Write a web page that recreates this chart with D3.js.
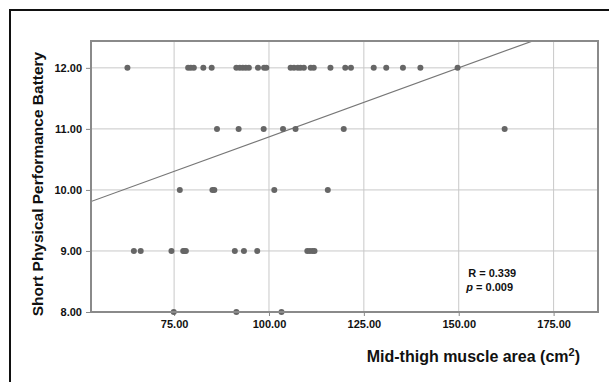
<!DOCTYPE html>
<html>
<head>
<meta charset="utf-8">
<script src="https://cdn.jsdelivr.net/npm/d3@7"></script>
<style>
  body { margin: 0; background: #fff; }
  text { font-family: "Liberation Sans", Arial, sans-serif; }
</style>
</head>
<body>
<div id="chart"></div>
<script>
// data: mid-thigh muscle area (cm2) for each SPPB score
var sppb12 = [62.7, 78.7, 79.4, 80.2, 82.7, 84.9, 91.4, 92.3, 93.1, 93.9, 94.7, 97.1, 98.7, 99.3,
              105.7, 106.6, 107.6, 108.3, 109.2, 111.0, 111.8, 116.2, 120.1, 121.6, 127.6, 130.9,
              135.3, 139.9, 149.7];
var sppb11 = [86.3, 92.0, 98.6, 103.7, 107.0, 119.7, 162.1];
var sppb10 = [76.5, 85.1, 85.6, 101.4, 115.5];
var sppb9 = [64.4, 66.2, 74.3, 77.4, 77.7, 78.1, 91.0, 93.4, 96.9, 110.1, 110.8, 111.5, 112.0];
var sppb8 = [74.9, 91.4, 103.3];

var xTicks = [75, 100, 125, 150, 175];
var yTicks = [8, 9, 10, 11, 12];

// fit line (as drawn): y = intercept + slope * x
var fitIntercept = 8.61;
var fitSlope = 0.0226;

var points = [];
[[12, sppb12], [11, sppb11], [10, sppb10], [9, sppb9], [8, sppb8]].forEach(function(s) {
    s[1].forEach(function(v) { points.push({x: v, y: s[0]}); });
});

var W = 609, H = 382;
var margin = {top: 41, right: 11, bottom: 70, left: 91},
    width = W - margin.left - margin.right,
    height = H - margin.top - margin.bottom;

var svg = d3.select("#chart").append("svg")
    .attr("width", W)
    .attr("height", H);

// outer black frame (top and left visible)
svg.append("rect")
    .attr("x", 10).attr("y", 10)
    .attr("width", W + 20).attr("height", H + 20)
    .attr("fill", "none")
    .attr("stroke", "#111")
    .attr("stroke-width", 2);

var g = svg.append("g")
    .attr("transform", "translate(" + margin.left + "," + margin.top + ")");

var x = d3.scaleLinear().domain([53.1, 186.7]).range([0, width]);
var y = d3.scaleLinear().domain([8, 12.44]).range([height, 0]);

// grid lines
g.append("g").selectAll("line").data(xTicks).enter().append("line")
    .attr("x1", d => x(d)).attr("x2", d => x(d))
    .attr("y1", 0).attr("y2", height)
    .attr("stroke", "#c8c8c8").attr("stroke-width", 1);
g.append("g").selectAll("line").data(yTicks.slice(1)).enter().append("line")
    .attr("x1", 0).attr("x2", width)
    .attr("y1", d => y(d)).attr("y2", d => y(d))
    .attr("stroke", "#c8c8c8").attr("stroke-width", 1);

// axes
var xAxis = g.append("g")
    .attr("transform", "translate(0," + height + ")")
    .call(d3.axisBottom(x).tickValues(xTicks).tickFormat(d3.format(".2f")).tickSize(4).tickPadding(4));
var yAxis = g.append("g")
    .call(d3.axisLeft(y).tickValues(yTicks).tickFormat(d3.format(".2f")).tickSize(5).tickPadding(4));
[xAxis, yAxis].forEach(function(a) {
    a.select(".domain").remove();
    a.selectAll(".tick line").attr("stroke", "#888");
    a.selectAll(".tick text")
        .attr("fill", "#111")
        .style("font-size", "11px")
        .style("font-weight", "bold")
        .style("font-family", "'Liberation Sans', Arial, sans-serif");
});

// regression line
g.append("clipPath").attr("id", "plotclip")
    .append("rect").attr("width", width).attr("height", height);
var xs = x.domain();
g.append("line")
    .attr("clip-path", "url(#plotclip)")
    .attr("x1", x(xs[0])).attr("y1", y(fitIntercept + fitSlope * xs[0]))
    .attr("x2", x(xs[1])).attr("y2", y(fitIntercept + fitSlope * xs[1]))
    .attr("stroke", "#777").attr("stroke-width", 1.2);

// dots
g.append("g").selectAll("circle").data(points).enter().append("circle")
    .attr("cx", d => x(d.x))
    .attr("cy", d => y(d.y))
    .attr("r", 3)
    .attr("fill", "#666");

// plot frame
g.append("rect")
    .attr("width", width).attr("height", height)
    .attr("fill", "none")
    .attr("stroke", "#8a8a8a")
    .attr("stroke-width", 2);

// stats annotation
var ann = g.append("text")
    .attr("x", x(152.5)).attr("y", y(8.58))
    .style("font-size", "11px").style("font-weight", "bold").attr("fill", "#111");
ann.append("tspan").text("R = 0.339");
var ann2 = g.append("text")
    .attr("x", x(152.0)).attr("y", y(8.34))
    .style("font-size", "11px").style("font-weight", "bold").attr("fill", "#111");
ann2.append("tspan").style("font-style", "italic").text("p");
ann2.append("tspan").text(" = 0.009");

// axis titles
var xt = svg.append("text")
    .attr("x", 580).attr("y", 362)
    .attr("text-anchor", "end")
    .style("font-size", "16px").style("font-weight", "bold").attr("fill", "#111");
xt.append("tspan").text("Mid-thigh muscle area (cm");
xt.append("tspan").attr("dy", -6).style("font-size", "11px").text("2");
xt.append("tspan").attr("dy", 6).text(")");

svg.append("text")
    .attr("transform", "translate(43,184) rotate(-90)")
    .attr("text-anchor", "middle")
    .style("font-size", "15.5px").style("font-weight", "bold").attr("fill", "#111")
    .text("Short Physical Performance Battery");
</script>
</body>
</html>
